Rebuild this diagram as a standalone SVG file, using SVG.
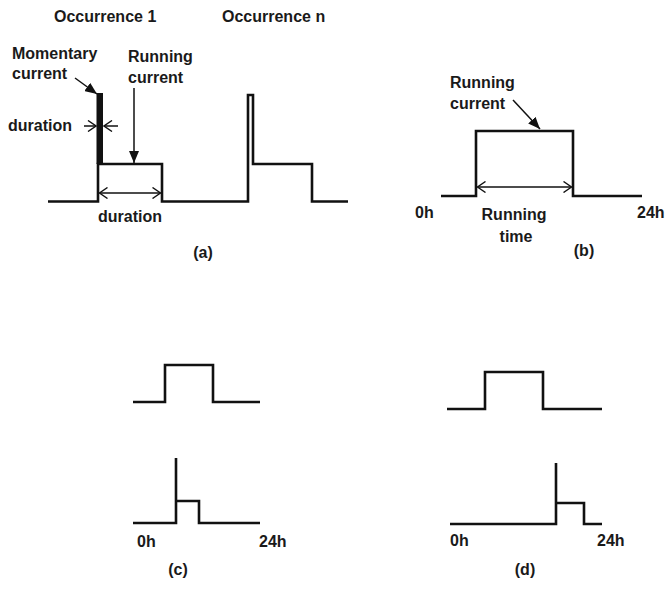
<svg xmlns="http://www.w3.org/2000/svg" width="665" height="591" viewBox="0 0 665 591">
<style>
text{font-family:"Liberation Sans",Arial,sans-serif;font-weight:bold;font-size:16px;fill:#1a1a1a}
.w{fill:none;stroke:#111;stroke-width:2.6;stroke-linejoin:miter}
.a{fill:none;stroke:#111;stroke-width:1.5}
.mid{text-anchor:middle}
</style>
<defs>
<marker id="fa" markerUnits="userSpaceOnUse" markerWidth="12" markerHeight="10" refX="12" refY="5" orient="auto"><path d="M0,0 L12,5 L0,10 z" fill="#111"/></marker>
<marker id="ch" markerUnits="userSpaceOnUse" markerWidth="10" markerHeight="12" refX="9" refY="6" orient="auto-start-reverse"><path d="M1,0.5 L9,6 L1,11.5" fill="none" stroke="#111" stroke-width="1.4"/></marker>
</defs>
<rect width="665" height="591" fill="#fff"/>

<g id="panel-a">
<text x="54" y="22">Occurrence 1</text>
<text x="222" y="22">Occurrence n</text>
<text x="12" y="59">Momentary</text>
<text x="12" y="79">current</text>
<text x="128" y="62">Running</text>
<text x="128" y="83">current</text>
<text x="8" y="131">duration</text>
<text x="98" y="222">duration</text>
<text class="mid" x="203" y="258">(a)</text>
<path class="w" d="M48,201.5 H98 V164 H162 V201.5 H248 V95 H253 V164 H312 V201.5 H348"/>
<rect x="96.5" y="93" width="6.5" height="71" fill="#111"/>
</g>

<g id="panel-b">
<text x="450" y="88">Running</text>
<text x="450" y="109">current</text>
<text x="415" y="218">0h</text>
<text x="637" y="218">24h</text>
<text class="mid" x="514" y="220">Running</text>
<text class="mid" x="516" y="242">time</text>
<text class="mid" x="584" y="256">(b)</text>
<path class="w" d="M441,196 H476 V131 H573 V196 H642"/>
</g>

<g id="panel-c">
<path class="w" d="M133,402 H165 V365 H213 V402 H260"/>
<path class="w" d="M133,523 H176 V458 M176,501 H199 V523 H260"/>
<text x="137" y="547">0h</text>
<text x="259" y="547">24h</text>
<text class="mid" x="178" y="575">(c)</text>
</g>

<g id="panel-d">
<path class="w" d="M447,409 H485 V372 H543 V409 H602"/>
<path class="w" d="M450,524 H556 V463 M556,503 H584 V524 H602"/>
<text x="450" y="546">0h</text>
<text x="597" y="546">24h</text>
<text class="mid" x="525" y="575">(d)</text>
</g>

<g id="connectors">
<line class="a" x1="75" y1="78" x2="97" y2="94" stroke-width="2" marker-end="url(#fa)"/>
<line class="a" x1="134" y1="88" x2="134" y2="163" stroke-width="2" marker-end="url(#fa)"/>
<line class="a" x1="84" y1="126" x2="96" y2="126" marker-end="url(#ch)"/>
<line class="a" x1="118" y1="126" x2="104" y2="126" marker-end="url(#ch)"/>
<line class="a" x1="99.5" y1="193" x2="160.5" y2="193" marker-start="url(#ch)" marker-end="url(#ch)"/>
<line class="a" x1="513" y1="100" x2="540" y2="129" stroke-width="2" marker-end="url(#fa)"/>
<line class="a" x1="477.5" y1="187" x2="571.5" y2="187" marker-start="url(#ch)" marker-end="url(#ch)"/>
</g>
</svg>
